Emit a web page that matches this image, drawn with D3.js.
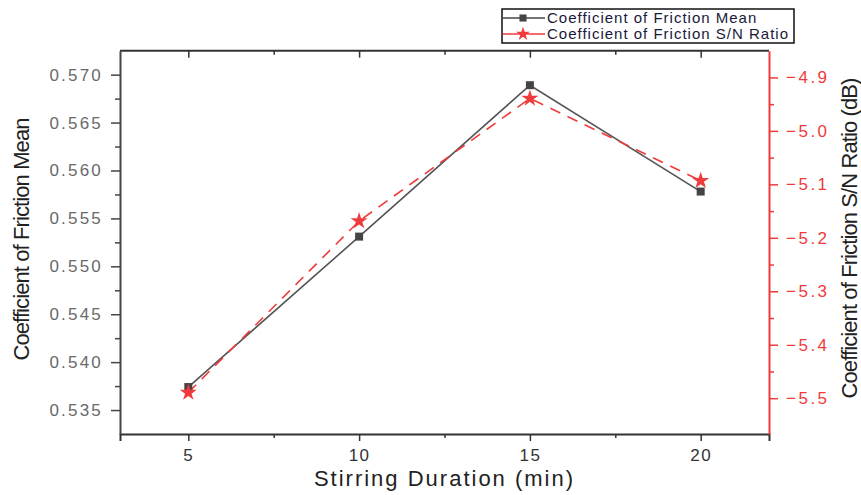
<!DOCTYPE html>
<html><head><meta charset="utf-8">
<script src="https://cdn.jsdelivr.net/npm/d3@7"></script>
<style>body{margin:0;background:#fff}svg{display:block}text{font-family:"Liberation Sans",Arial,sans-serif}</style>
</head><body><svg id="c" width="861" height="495"></svg>
<script>
const durations = [5, 10, 15, 20];
const cofMean = [0.5374, 0.5531, 0.5689, 0.5578];
const snRatio = [-5.4895, -5.1686, -4.9393, -5.0933];
const xTicks = [5, 10, 15, 20];
const yLeftTicks = [0.535, 0.540, 0.545, 0.550, 0.555, 0.560, 0.565, 0.570];
const yRightTicks = [-5.5, -5.4, -5.3, -5.2, -5.1, -5.0, -4.9];
const seriesNames = ["Coefficient of Friction Mean", "Coefficient of Friction S/N Ratio"];

const svg = d3.select("#c");
const L = 120, R = 769, T = 50.7, B = 434;
const x = d3.scaleLinear().domain([3, 22]).range([L, R]);
const yL = d3.scaleLinear().domain([0.5325, 0.5725]).range([B, T]);
const yR = d3.scaleLinear().domain([-5.567, -4.85]).range([B, T]);

const red = "#ef3b3b";

function styleAxis(g, col, w) {
  g.select(".domain").attr("stroke", col).attr("stroke-width", w);
  g.selectAll(".tick line").attr("stroke", col).attr("stroke-width", 1.5);
}

const xMinor = [7.5, 12.5, 17.5];
const yLMinor = [0.5375, 0.5425, 0.5475, 0.5525, 0.5575, 0.5625, 0.5675];
const yRMinor = [-5.45, -5.35, -5.25, -5.15, -5.05, -4.95];

// bottom axis
const gx = svg.append("g").attr("transform", `translate(0,${B})`)
  .call(d3.axisBottom(x).tickValues(xTicks).tickSize(7).tickPadding(8).tickFormat(d3.format("d")));
styleAxis(gx, "#333", 2);
gx.selectAll(".tick text").attr("font-size", 17).attr("fill", "#333").attr("letter-spacing", 1.5);
svg.append("g").attr("transform", `translate(0,${B})`)
  .call(d3.axisBottom(x).tickValues(xMinor).tickSize(4).tickFormat(""))
  .call(g => { g.select(".domain").remove(); g.selectAll("line").attr("stroke", "#333").attr("stroke-width", 1.5); });

// top frame
const gt = svg.append("g").attr("transform", `translate(0,${T})`)
  .call(d3.axisBottom(x).tickValues(xTicks).tickSize(7).tickSizeOuter(0).tickFormat(""));
styleAxis(gt, "#333", 2);
gt.select(".domain").attr("d", `M${L},0H${R}`);
svg.append("g").attr("transform", `translate(0,${T})`)
  .call(d3.axisBottom(x).tickValues(xMinor).tickSize(4).tickFormat(""))
  .call(g => { g.select(".domain").remove(); g.selectAll("line").attr("stroke", "#333").attr("stroke-width", 1.5); });

// left axis
const gl = svg.append("g").attr("transform", `translate(${L},0)`)
  .call(d3.axisLeft(yL).tickValues(yLeftTicks).tickSize(9).tickSizeOuter(0).tickPadding(8).tickFormat(d3.format(".3f")));
styleAxis(gl, "#444", 2);
gl.selectAll(".tick text").attr("font-size", 17).attr("fill", "#6a6a6a").attr("letter-spacing", 2.2);
svg.append("g").attr("transform", `translate(${L},0)`)
  .call(d3.axisLeft(yL).tickValues(yLMinor).tickSize(5).tickFormat(""))
  .call(g => { g.select(".domain").remove(); g.selectAll("line").attr("stroke", "#444").attr("stroke-width", 1.5); });

// right axis
const gr = svg.append("g").attr("transform", `translate(${R},0)`)
  .call(d3.axisRight(yR).tickValues(yRightTicks).tickSize(9).tickSizeOuter(0).tickPadding(8).tickFormat(d3.format(".1f")));
styleAxis(gr, red, 2);
gr.selectAll(".tick text").attr("font-size", 17).attr("fill", red).attr("letter-spacing", 2.5);
svg.append("g").attr("transform", `translate(${R},0)`)
  .call(d3.axisRight(yR).tickValues(yRMinor).tickSize(5).tickFormat(""))
  .call(g => { g.select(".domain").remove(); g.selectAll("line").attr("stroke", red).attr("stroke-width", 1.5); });

// axis titles
svg.append("text").attr("x", (L + R) / 2).attr("y", 486).attr("text-anchor", "middle")
  .attr("font-size", 22).attr("fill", "#222").attr("letter-spacing", 2).text("Stirring Duration (min)");
svg.append("text").attr("transform", `translate(29,${(117 + 362) / 2}) rotate(-90)`).attr("text-anchor", "middle")
  .attr("font-size", 22).attr("fill", "#222").attr("letter-spacing", -0.9).text("Coefficient of Friction Mean");
svg.append("text").attr("transform", `translate(857,${(77 + 400) / 2}) rotate(-90)`).attr("text-anchor", "middle")
  .attr("font-size", 22).attr("fill", "#222").attr("letter-spacing", -0.9).text("Coefficient of Friction S/N Ratio (dB)");

// series
const meanData = durations.map((d, i) => [d, cofMean[i]]);
const snData = durations.map((d, i) => [d, snRatio[i]]);
svg.append("path").datum(meanData).attr("fill", "none").attr("stroke", "#555").attr("stroke-width", 1.6)
  .attr("d", d3.line().x(d => x(d[0])).y(d => yL(d[1])));
svg.append("path").datum(snData).attr("fill", "none").attr("stroke", red).attr("stroke-width", 1.6)
  .attr("stroke-dasharray", "11,8")
  .attr("d", d3.line().x(d => x(d[0])).y(d => yR(d[1])));
svg.selectAll(".sq").data(meanData).join("path")
  .attr("transform", d => `translate(${x(d[0])},${yL(d[1])})`)
  .attr("d", d3.symbol(d3.symbolSquare, 64)).attr("fill", "#444");
svg.selectAll(".st").data(snData).join("path")
  .attr("transform", d => `translate(${x(d[0])},${yR(d[1])})`)
  .attr("d", d3.symbol(d3.symbolStar, 90)).attr("fill", red);

// legend
const lg = svg.append("g");
lg.append("rect").attr("x", 502).attr("y", 9).attr("width", 292).attr("height", 34)
  .attr("fill", "#fff").attr("stroke", "#111").attr("stroke-width", 1.5);
const rows = [{y: 18, col: "#444", sym: d3.symbolSquare, sz: 50}, {y: 34, col: red, sym: d3.symbolStar, sz: 60}];
rows.forEach((r, i) => {
  lg.append("line").attr("x1", 503).attr("x2", 545).attr("y1", r.y).attr("y2", r.y).attr("stroke", r.col).attr("stroke-width", 1.5);
  lg.append("path").attr("transform", `translate(523,${r.y})`).attr("d", d3.symbol(r.sym, r.sz)).attr("fill", r.col);
  lg.append("text").attr("x", 547).attr("y", r.y + 5).attr("font-size", 15).attr("letter-spacing", 1)
    .attr("fill", "#1a1a3a").text(seriesNames[i]);
});
</script></body></html>
